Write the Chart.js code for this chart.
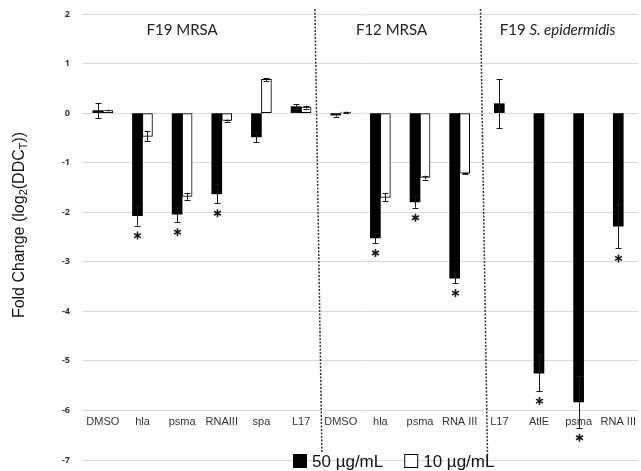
<!DOCTYPE html>
<html>
<head>
<meta charset="utf-8">
<script src="https://cdn.jsdelivr.net/npm/chart.js@4.4.0/dist/chart.umd.min.js"></script>
<style>
  html, body { margin: 0; padding: 0; background: #fff; }
  #wrap { width: 641px; height: 471px; }
</style>
</head>
<body>
<div id="wrap"><canvas id="chart" width="641" height="471"></canvas></div>
<script>
// ========== DATA ==========
const CATEGORIES = ['DMSO', 'hla', 'psma', 'RNAIII', 'spa', 'L17',
                    'DMSO', 'hla', 'psma', 'RNA III',
                    'L17', 'AtlE', 'psma', 'RNA III'];
const DOSE_50 = [0.05, -2.07, -2.04, -1.63, -0.48, 0.13, -0.04, -2.52, -1.79, -3.33, 0.19, -5.25, -5.83, -2.28];
const ERR_50  = [0.15, 0.2, 0.16, 0.19, 0.1, 0.05, 0.03, 0.1, 0.12, 0.1, 0.5, 0.36, 0.52, 0.45];
const DOSE_10 = [0.05, -0.47, -1.68, -0.15, 0.68, 0.12, 0.02, -1.7, -1.3, -1.21, null, null, null, null];
const ERR_10  = [0.02, 0.1, 0.07, 0.02, 0.03, 0.03, 0.01, 0.08, 0.04, 0.01, null, null, null, null];
const SIGNIF  = [false, true, true, true, false, false, false, true, true, true, false, true, true, true];
const GROUP_TITLES = ['F19 MRSA', 'F12 MRSA', 'F19 '];
const SERIES_LABELS = ['50 \u00b5g/mL', '10 \u00b5g/mL'];
const Y_MIN = -7, Y_MAX = 2;

// ========== PLUGINS ==========
const errorBarPlugin = {
  id: 'errorBars',
  afterDatasetsDraw(chart) {
    const ctx = chart.ctx;
    const y = chart.scales.y;
    const errs = [ERR_50, ERR_10];
    ctx.save();
    ctx.strokeStyle = '#1a1a1a';
    ctx.lineWidth = 1;
    chart.data.datasets.forEach((ds, di) => {
      const meta = chart.getDatasetMeta(di);
      meta.data.forEach((bar, i) => {
        const v = ds.data[i];
        const e = errs[di][i];
        if (v === null || e === null) return;
        const x = Math.round(bar.x) + 0.5;
        const top = y.getPixelForValue(v + e);
        const bot = y.getPixelForValue(v - e);
        ctx.beginPath();
        ctx.moveTo(x, top); ctx.lineTo(x, bot);
        ctx.moveTo(x - 3, Math.round(top) + 0.5); ctx.lineTo(x + 3, Math.round(top) + 0.5);
        ctx.moveTo(x - 3, Math.round(bot) + 0.5); ctx.lineTo(x + 3, Math.round(bot) + 0.5);
        ctx.stroke();
        // significance star under the 50 ug/mL bars
        if (di === 0 && SIGNIF[i]) {
          const cy = bot + 10;
          ctx.save();
          ctx.lineWidth = 1.6;
          ctx.beginPath();
          for (let k = 0; k < 3; k++) {
            const a = Math.PI / 2 + k * Math.PI / 3;
            ctx.moveTo(x - 4 * Math.cos(a), cy - 4 * Math.sin(a));
            ctx.lineTo(x + 4 * Math.cos(a), cy + 4 * Math.sin(a));
          }
          ctx.stroke();
          ctx.restore();
        }
      });
    });
    ctx.restore();
  }
};

const decorPlugin = {
  id: 'decor',
  afterDraw(chart) {
    const ctx = chart.ctx;
    const x = chart.scales.x;
    const area = chart.chartArea;
    ctx.save();

    // dotted group separators
    ctx.strokeStyle = '#333';
    ctx.lineWidth = 1.5;
    ctx.setLineDash([2, 1.5]);
    [[5.5, -6, 1, 452], [9.5, 1, 8, 458]].forEach(([idx, dTop, dBot, yEnd]) => {
      const px = x.getPixelForValue(idx);
      ctx.beginPath();
      ctx.moveTo(px + dTop, 9);
      ctx.lineTo(px + dBot, yEnd);
      ctx.stroke();
    });
    ctx.setLineDash([]);

    // group titles
    ctx.fillStyle = '#222';
    ctx.textBaseline = 'middle';
    ctx.textAlign = 'center';
    ctx.font = '15px Lato, "Liberation Sans", sans-serif';
    ctx.fillText(GROUP_TITLES[0], x.getPixelForValue(2.0), 30);
    ctx.fillText(GROUP_TITLES[1], x.getPixelForValue(7.28), 30);
    // third title has an italic part
    const t1 = GROUP_TITLES[2];
    ctx.font = 'italic 15px Lato, "Liberation Sans", sans-serif';
    const t2 = 'S. epidermidis';
    const w2 = ctx.measureText(t2).width;
    ctx.font = '15px Lato, "Liberation Sans", sans-serif';
    const w1 = ctx.measureText(t1).width;
    const cx = x.getPixelForValue(11.47);
    ctx.textAlign = 'left';
    ctx.fillText(t1, cx - (w1 + w2) / 2, 30);
    ctx.font = 'italic 15px Lato, "Liberation Sans", sans-serif';
    ctx.fillText(t2, cx - (w1 + w2) / 2 + w1, 30);

    // y axis title with subscripts
    const parts = [['Fold Change (log', 16, 0], ['2', 11, 4], ['(DDC', 16, 0], ['T', 11, 4], ['))', 16, 0]];
    let total = 0;
    parts.forEach(p => { ctx.font = p[1] + 'px "Liberation Sans", Arial, sans-serif'; total += ctx.measureText(p[0]).width; });
    ctx.translate(20, (area.top + area.bottom) / 2 - 12);
    ctx.rotate(-Math.PI / 2);
    ctx.fillStyle = '#111';
    let pos = -total / 2;
    parts.forEach(p => {
      ctx.font = p[1] + 'px "Liberation Sans", Arial, sans-serif';
      ctx.fillText(p[0], pos, p[2]);
      pos += ctx.measureText(p[0]).width;
    });
    ctx.setTransform(1, 0, 0, 1, 0, 0);

    // legend
    ctx.font = '17px "Liberation Sans", Arial, sans-serif';
    ctx.textBaseline = 'middle';
    let lx = 293;
    const ly = 461;
    chart.data.datasets.forEach((ds, di) => {
      ctx.fillStyle = ds.backgroundColor;
      ctx.fillRect(lx, ly - 7, 14, 14);
      ctx.strokeStyle = '#000';
      ctx.lineWidth = 1;
      ctx.strokeRect(lx + 0.5, ly - 6.5, 13, 13);
      ctx.fillStyle = '#111';
      ctx.fillText(ds.label, lx + 19, ly + 1);
      lx += 19 + ctx.measureText(ds.label).width + 21;
    });
    ctx.restore();
  }
};

// ========== CHART ==========
const ctx = document.getElementById('chart').getContext('2d');
new Chart(ctx, {
  type: 'bar',
  data: {
    labels: CATEGORIES,
    datasets: [
      {
        label: SERIES_LABELS[0],
        data: DOSE_50,
        backgroundColor: '#000000',
        borderColor: '#000000',
        borderWidth: 0
      },
      {
        label: SERIES_LABELS[1],
        data: DOSE_10,
        backgroundColor: '#ffffff',
        borderColor: '#000000',
        borderWidth: 1,
        borderSkipped: false
      }
    ]
  },
  options: {
    responsive: false,
    animation: false,
    devicePixelRatio: 1,
    barThickness: 10,
    skipNull: true,
    layout: { padding: { left: 0, right: 0, top: 14, bottom: 11 } },
    plugins: {
      legend: { display: false },
      tooltip: { enabled: false }
    },
    scales: {
      x: {
        position: { y: -6 },
        grid: { display: false, drawTicks: false },
        border: { display: false },
        ticks: {
          color: '#333',
          padding: 5,
          maxRotation: 0,
          autoSkip: false,
          font: { family: '"Liberation Sans", Arial, sans-serif', size: 11 }
        }
      },
      y: {
        min: Y_MIN,
        max: Y_MAX,
        afterFit(scale) {
          scale.width = 83;
          scale.paddingTop = 0;
          scale.paddingBottom = 0;
        },
        grid: { color: '#d9d9d9', lineWidth: 1, drawTicks: false },
        border: { display: false },
        ticks: {
          stepSize: 1,
          padding: 13,
          color: '#333',
          font: { family: '"Open Sans", sans-serif', size: 9, weight: 'bold' }
        }
      }
    }
  },
  plugins: [errorBarPlugin, decorPlugin]
});
</script>
</body>
</html>
